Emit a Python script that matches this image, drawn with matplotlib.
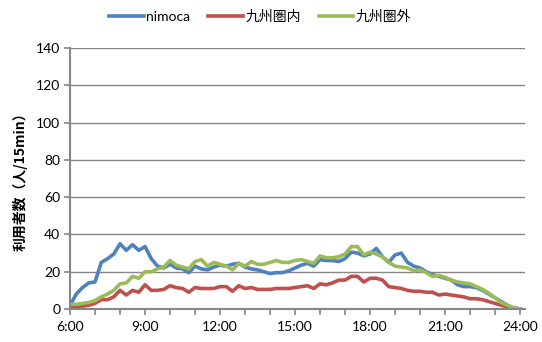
import matplotlib
matplotlib.use("Agg")
import matplotlib.pyplot as plt
import numpy as np

plt.rcParams['font.family'] = ['Lato', 'Noto Sans CJK JP', 'DejaVu Sans']

# 15-minute slots from 6:00 to 24:00
slot_count = 73
tick_labels = ["6:00", "9:00", "12:00", "15:00", "18:00", "21:00", "24:00"]

nimoca = [2, 8, 11.5, 14, 14.5, 25, 27, 29.5, 35, 31.5, 34.5, 31.5, 33.5, 27, 23,
          22, 24, 22, 21.5, 19.5, 23, 21.5, 21, 22.5, 23.5, 23, 24, 24.5, 22.5, 21.5,
          21, 20, 19, 19.5, 19.5, 20.5, 22, 23.5, 24.5, 23, 26.5, 26, 26, 25.5, 27,
          30.5, 30, 28.5, 29.5, 32.5, 28, 25, 29, 30, 25, 23, 22, 20, 18.5, 17.5,
          16.5, 15.5, 13, 12, 12, 11.5, 10, 8, 6, 4, 2, 0.5, 0]
kyushu_in = [1, 1, 1.5, 2, 3, 5, 5, 6.5, 10, 7.5, 10, 9, 13, 10, 10,
             10.5, 12.5, 11.5, 11, 9, 11.5, 11, 11, 11, 12, 12, 9.5, 12.5, 11, 11.5,
             10.5, 10.5, 10.5, 11, 11, 11, 11.5, 12, 12.5, 11, 13.5, 13, 14, 15.5, 15.5,
             17.5, 17.5, 14.5, 16.5, 16.5, 15.5, 12, 11.5, 11, 10, 9.5, 9.5, 9, 9, 7.5,
             8, 7.5, 7, 6.5, 5.5, 5.5, 5, 4, 3, 2, 1, 0.5, 0]
kyushu_out = [2.5, 2.5, 3, 3.5, 4.5, 6.5, 8, 10, 13.5, 14, 17.5, 16.5, 20, 20, 21.5,
              22.5, 26, 23.5, 22.5, 21.5, 25.5, 26.5, 23, 25, 24, 23, 21, 24.5, 23, 25.5,
              24, 24, 25, 26, 25, 25, 26, 26.5, 25.5, 24.5, 28.5, 27.5, 27.5, 28, 29.5,
              33.5, 33.5, 29, 30.5, 29.5, 28, 25, 23, 22.5, 22, 20.5, 21, 19.5, 17.5, 18,
              17, 15.5, 14.5, 14, 13.5, 12, 10.5, 8.5, 6, 3.5, 2, 0.5, 0]

series = [("nimoca", nimoca, "#4F81BD"),
          ("九州圏内", kyushu_in, "#C0504D"),
          ("九州圏外", kyushu_out, "#9BBB59")]

fig = plt.figure(figsize=(5.42, 3.42), dpi=100)
ax = fig.add_axes([0.1292, 0.0965, 0.8395, 0.7631])

x = np.arange(slot_count)
for name, vals, color in series:
    ax.plot(x, vals, color=color, lw=2.6, label=name, solid_joinstyle='round')

grid_color = "#868686"
ax.set_ylim(0, 140)
ax.set_yticks(np.arange(0, 141, 20))
ax.set_xlim(0, 72.8)
ax.set_xticks(np.arange(0, 73, 4))
ax.set_xticklabels([tick_labels[i // 12] if i % 12 == 0 else "" for i in range(0, 73, 4)])
ax.yaxis.grid(True, color=grid_color, lw=1.0)
ax.set_axisbelow(True)

for side in ("top", "right"):
    ax.spines[side].set_visible(False)
for side in ("left", "bottom"):
    ax.spines[side].set_color(grid_color)
    ax.spines[side].set_linewidth(1.5)

ax.tick_params(axis='both', colors=grid_color, length=4, width=1.2, direction='out',
               labelsize=10, labelcolor="black", pad=3)
ax.tick_params(axis='x', pad=5)

ax.set_ylabel("利用者数（人/15min）", fontsize=10, fontweight='bold',
              family=['Noto Sans CJK JP', 'DejaVu Sans'], labelpad=6)

fig.legend(loc='center', bbox_to_anchor=(0.48, 0.952), ncol=3, frameon=False,
           handlelength=2.5, handletextpad=0.15, columnspacing=1.3,
           prop={'family': ['Lato', 'Noto Sans CJK JP'], 'size': 10})

fig.savefig("out.png", dpi=100)
